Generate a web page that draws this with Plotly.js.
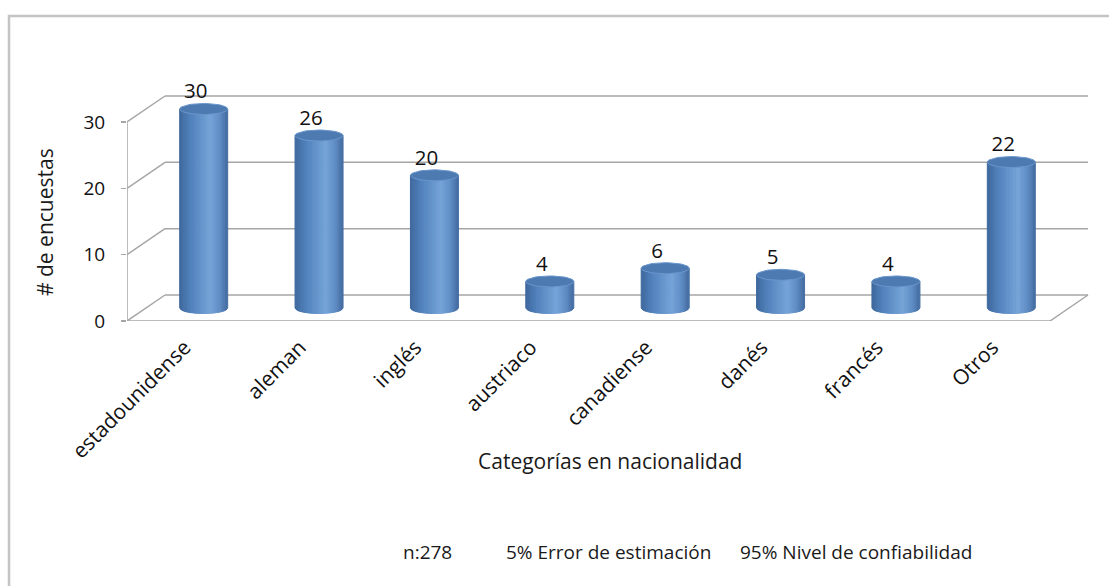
<!DOCTYPE html>
<html>
<head>
<meta charset="utf-8">
<script src="https://cdn.plot.ly/plotly-3.0.1.min.js"></script>
<style>html,body{margin:0;padding:0;background:#fff;}#chart{width:1109px;height:586px;}</style>
</head>
<body>
<div id="chart"></div>
<script>
// ---- data ----
const categories = ["estadounidense", "aleman", "inglés", "austriaco", "canadiense", "danés", "francés", "Otros"];
const counts = [30, 26, 20, 4, 6, 5, 4, 22];
const yTicks = [0, 10, 20, 30];
const xTitle = "Categorías en nacionalidad";
const yTitle = "# de encuestas";
const footnotes = ["n:278", "5% Error de estimación", "95% Nivel de confiabilidad"];

// ---- geometry (pixels) ----
const W = 1109, H = 586;
const PL = 127, PR = 1095, PT = 60, PB = 321;
const CAT_PX = 923 / 8;           // front category width
const UNIT_PX = 199 / 30;         // pixels per survey
const DX = 38 / CAT_PX;           // depth offset (data units)
const DY = 26 / UNIT_PX;
const RX = 24 / CAT_PX;           // cylinder radius
const RY = 5.5 / UNIT_PX;
const LABEL_SHIFT = -8 / CAT_PX;  // value labels sit slightly left of centre
const xRange = [-0.5, -0.5 + (PR - PL) / CAT_PX];
const yRange = [0, (PB - PT) / UNIT_PX];
const px2x = p => (p - PL) / (PR - PL);
const py2y = p => (PB - p) / (PB - PT);
const FONT = "Open Sans, Lato, sans-serif";
const grid = "#a6a6a6";
const nCat = categories.length;
const yMax = yTicks[yTicks.length - 1];

// ---- shading for cylinders ----
function lerp(a, b, t) { return a + (b - a) * t; }
function shade(t) {
  const stops = [[0, [62, 103, 156]], [0.25, [82, 131, 189]], [0.65, [118, 164, 216]], [0.85, [94, 140, 196]], [1, [68, 108, 160]]];
  for (let i = 0; i < stops.length - 1; i++) {
    const [t0, c0] = stops[i], [t1, c1] = stops[i + 1];
    if (t <= t1) {
      const u = (t - t0) / (t1 - t0);
      return "rgb(" + c0.map((c, k) => Math.round(lerp(c, c1[k], u))).join(",") + ")";
    }
  }
  return "rgb(68,108,160)";
}
const arc = (x, c) => Math.sqrt(Math.max(0, 1 - Math.pow((x - c) / RX, 2)));

const traces = [];
const N = 28;
for (let k = 0; k < N; k++) {
  const xs = [], ys = [];
  counts.forEach((v, i) => {
    const c = i + DX / 2, base = DY / 2, top = base + v;
    const a = c - RX + k * 2 * RX / N, b = a + 2 * RX / N;
    const m = (a + b) / 2;
    xs.push(a, m, b, b, a, a, null);
    ys.push(base - RY * arc(a, c), base - RY * arc(m, c), base - RY * arc(b, c), top, top, base - RY * arc(a, c), null);
  });
  const col = shade((k + 0.5) / N);
  traces.push({x: xs, y: ys, type: "scatter", mode: "lines", fill: "toself", fillcolor: col,
    line: {color: col, width: 1}, hoverinfo: "skip", showlegend: false});
}
// top ellipses
{
  const xs = [], ys = [];
  counts.forEach((v, i) => {
    const c = i + DX / 2, top = DY / 2 + v;
    for (let j = 0; j <= 48; j++) {
      const th = 2 * Math.PI * j / 48;
      xs.push(c + RX * Math.cos(th)); ys.push(top + RY * Math.sin(th));
    }
    xs.push(null); ys.push(null);
  });
  traces.push({x: xs, y: ys, type: "scatter", mode: "lines", fill: "toself", fillcolor: "rgb(78,122,178)",
    line: {color: "rgb(106,150,204)", width: 1}, hoverinfo: "skip", showlegend: false});
}
// value labels
traces.push({x: counts.map((v, i) => i + DX / 2 + LABEL_SHIFT), y: counts.map(v => v + DY / 2 + RY),
  text: counts.map(String), type: "scatter", mode: "text", textposition: "top center",
  textfont: {family: FONT, size: 20.5, color: "#111"}, cliponaxis: false, hoverinfo: "skip", showlegend: false});

// ---- frame shapes ----
const shapes = [];
const L = (x0, y0, x1, y1) => shapes.push({type: "line", xref: "x", yref: "y", x0, y0, x1, y1, layer: "below", line: {color: grid, width: 1.5}});
yTicks.forEach(t => {
  L(-0.5 + DX, t + DY, nCat - 0.5 + DX, t + DY);   // back wall
  L(-0.5, t, -0.5 + DX, t + DY);                    // side wall
});
L(-0.5, 0, -0.5, yMax);
L(-0.5, 0, nCat - 0.5, 0);
L(nCat - 0.5, 0, nCat - 0.5 + DX, DY);
for (let i = 0; i <= nCat; i++) {
  shapes.push({type: "line", xref: "x", yref: "y", ysizemode: "pixel", yanchor: 0, x0: i - 0.5, x1: i - 0.5, y0: 0, y1: -6, line: {color: grid, width: 1.5}});
}
// chart border
shapes.push({type: "rect", xref: "paper", yref: "paper", x0: px2x(9), y0: py2y(16), x1: px2x(1130), y1: py2y(620),
  line: {color: "#c4c4c4", width: 2.5}, fillcolor: "rgba(0,0,0,0)"});

const annFont = {family: FONT, size: 19, color: "#1a1a1a"};
const titleFont = {family: FONT, size: 21, color: "#1a1a1a"};
const annotations = [
  {text: yTitle, xref: "paper", yref: "paper", x: px2x(45), y: py2y(222), textangle: -90, showarrow: false, font: titleFont, xanchor: "center", yanchor: "middle"},
  {text: xTitle, xref: "paper", yref: "paper", x: px2x(610), y: py2y(461), showarrow: false, font: titleFont, xanchor: "center", yanchor: "middle"},
  {text: footnotes[0], xref: "paper", yref: "paper", x: px2x(427), y: py2y(552), showarrow: false, font: annFont, xanchor: "center", yanchor: "middle"},
  {text: footnotes[1], xref: "paper", yref: "paper", x: px2x(608), y: py2y(552), showarrow: false, font: annFont, xanchor: "center", yanchor: "middle"},
  {text: footnotes[2], xref: "paper", yref: "paper", x: px2x(856), y: py2y(552), showarrow: false, font: annFont, xanchor: "center", yanchor: "middle"}
];

const layout = {
  width: W, height: H, autosize: false,
  margin: {l: PL, r: W - PR, t: PT, b: H - PB, pad: 0},
  paper_bgcolor: "#fff", plot_bgcolor: "rgba(0,0,0,0)",
  font: {family: FONT, color: "#1a1a1a"},
  xaxis: {range: xRange, tickvals: categories.map((c, i) => i), ticktext: categories, tickangle: -45,
    ticks: "", showgrid: false, zeroline: false, showline: false, fixedrange: true, ticklabelstandoff: 9,
    tickfont: {family: FONT, size: 21, color: "#111"}, automargin: false},
  yaxis: {range: yRange, tickvals: yTicks, ticks: "outside", ticklen: 5, tickwidth: 1.5, tickcolor: grid,
    showgrid: false, zeroline: false, showline: false, fixedrange: true, ticklabelstandoff: 12,
    tickfont: {family: FONT, size: 19, color: "#111"}, automargin: false},
  showlegend: false,
  shapes: shapes,
  annotations: annotations
};
Plotly.newPlot("chart", traces, layout, {displayModeBar: false, staticPlot: true});
</script>
</body>
</html>
